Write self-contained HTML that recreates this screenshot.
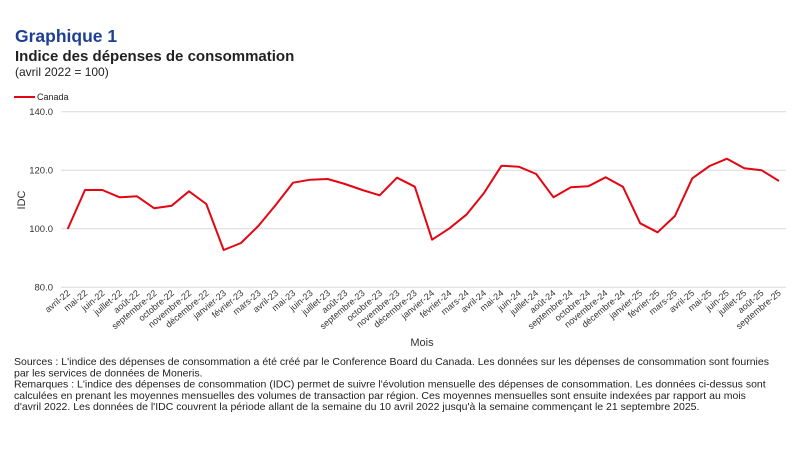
<!DOCTYPE html>
<html><head><meta charset="utf-8"><style>
html,body{margin:0;padding:0;background:#fff;width:800px;height:450px;overflow:hidden}
svg text{font-family:"Liberation Sans",Arial,sans-serif}
</style></head><body>
<svg width="800" height="450" xmlns="http://www.w3.org/2000/svg">
<text x="15" y="42" font-size="17.5" font-weight="bold" fill="#1d3f94">Graphique 1</text>
<text x="15" y="61" font-size="15" font-weight="bold" fill="#222">Indice des dépenses de consommation</text>
<text x="15" y="76" font-size="12" fill="#222">(avril 2022 = 100)</text>
<line x1="14" y1="97" x2="35" y2="97" stroke="#e30613" stroke-width="2"/>
<text x="37" y="100" font-size="9" fill="#222">Canada</text>
<g stroke="#d9d9d9" stroke-width="1">
<line x1="61" y1="111.7" x2="786" y2="111.7"/>
<line x1="61" y1="170.2" x2="786" y2="170.2"/>
<line x1="61" y1="228.8" x2="786" y2="228.8"/>
<line x1="61" y1="287.3" x2="786" y2="287.3"/>
</g>
<g font-size="9.5" fill="#333" text-anchor="end">
<text x="53" y="115">140.0</text>
<text x="53" y="173.5">120.0</text>
<text x="53" y="232">100.0</text>
<text x="53" y="290.5">80.0</text>
</g>
<text transform="translate(25,200) rotate(-90)" font-size="11" fill="#333" text-anchor="middle">IDC</text>
<text x="422" y="346" font-size="11" fill="#333" text-anchor="middle">Mois</text>
<polyline fill="none" stroke="#e30613" stroke-width="2" stroke-linejoin="round" points="
67.7,229 85,190 102.3,190 119.7,197.3 137,196.3 154.3,208.3 171.7,205.7 189,191.3 206.3,204 223.7,250 241,243 258.3,226 275.7,205 293,182.7 310.3,179.7 327.7,179 345,184 362.3,190 379.7,195.3 397,177.7
414.8,186.7 432.1,239.7 449.5,228.3 466.8,214.3 484.2,192.7 501.5,165.7 518.8,166.7 536.2,174 553.5,197.3 570.9,187.3 588.2,186.3 605.6,177.3 622.9,186.7 640.2,223.3 657.6,232.3 674.9,216 692.3,178.3 709.6,166 727,158.7 744.3,168.3 761.7,170.3 779,181"/>
<g font-size="9" fill="#333" text-anchor="end" id="xl"></g>
<text x="14" y="365" font-size="10.5" fill="#222">Sources : L'indice des dépenses de consommation a été créé par le Conference Board du Canada. Les données sur les dépenses de consommation sont fournies</text>
<text x="14" y="376.3" font-size="10.5" fill="#222">par les services de données de Moneris.</text>
<text x="14" y="387.6" font-size="10.5" fill="#222">Remarques : L'indice des dépenses de consommation (IDC) permet de suivre l'évolution mensuelle des dépenses de consommation. Les données ci-dessus sont</text>
<text x="14" y="398.9" font-size="10.5" fill="#222">calculées en prenant les moyennes mensuelles des volumes de transaction par région. Ces moyennes mensuelles sont ensuite indexées par rapport au mois</text>
<text x="14" y="410.2" font-size="10.5" fill="#222">d'avril 2022. Les données de l'IDC couvrent la période allant de la semaine du 10 avril 2022 jusqu'à la semaine commençant le 21 septembre 2025.</text>
</svg>
<script>
var m=["avril","mai","juin","juillet","août","septembre","octobre","novembre","décembre","janvier","février","mars"];
var g=document.getElementById("xl"),ns="http://www.w3.org/2000/svg";
for(var i=0;i<42;i++){var mi=i%12,yr=22+Math.floor((i+3)/12);
var x=67.7+17.34*i+3,y=294;
var t=document.createElementNS(ns,"text");t.setAttribute("transform","translate("+x+","+y+") rotate(-40)");
t.textContent=m[mi]+"-"+yr;g.appendChild(t);}
</script>
</body></html>
